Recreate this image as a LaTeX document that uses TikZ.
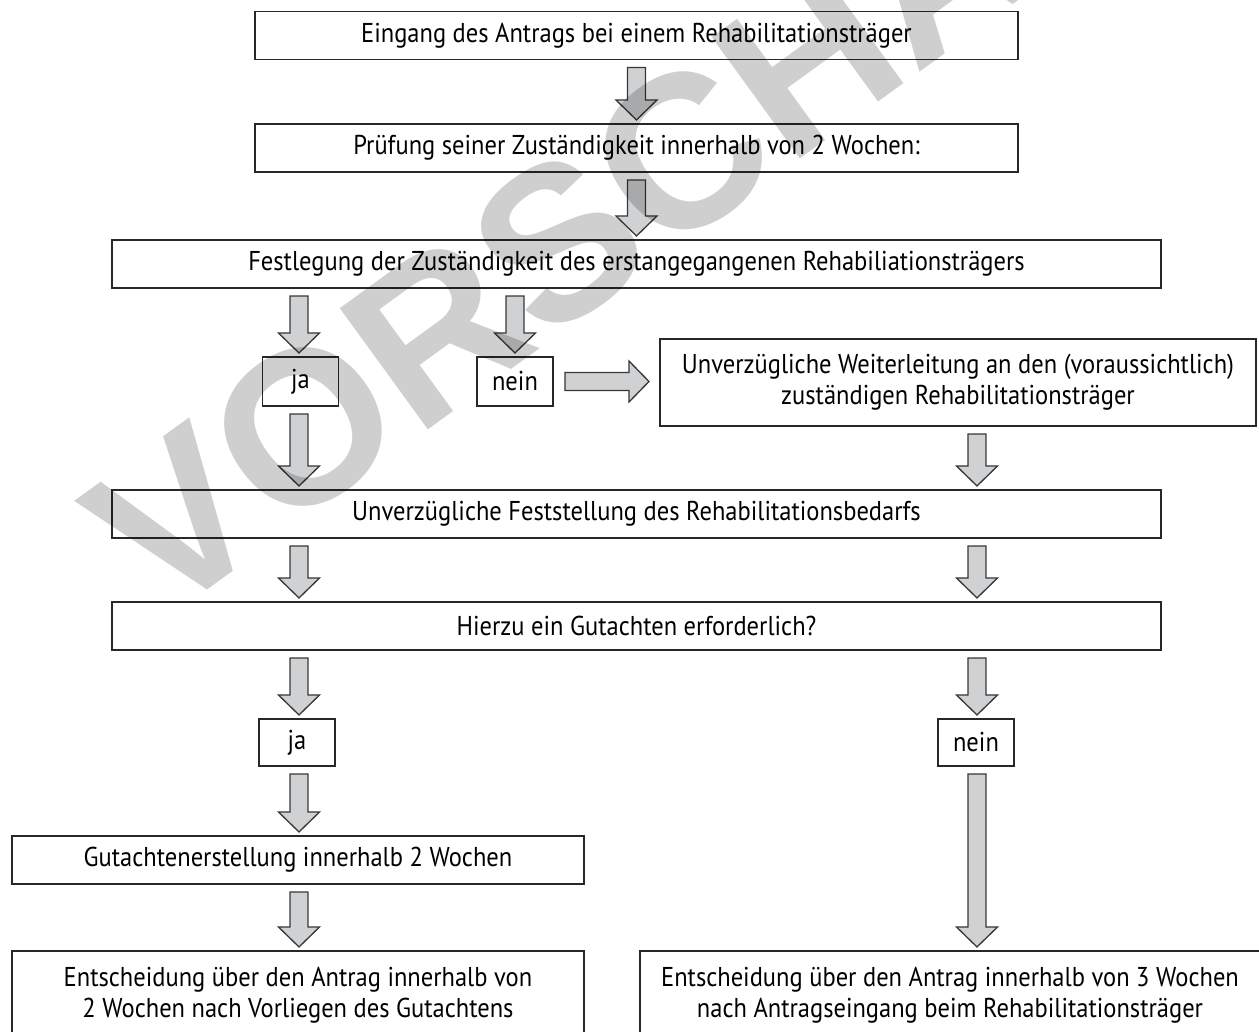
\documentclass[tikz,border=0pt]{standalone}
\usepackage{fontspec}
\setmainfont{PT Sans}[FakeStretch=0.9]
\newfontfamily\markfont{Liberation Sans}[BoldFont=* Bold]
\usepackage{tikz}
\usetikzlibrary{calc,positioning}
\definecolor{linedark}{RGB}{40,40,40}
\definecolor{arrowgrey}{RGB}{208,209,211}
\definecolor{arrowline}{RGB}{55,55,55}
\tikzset{
  base/.style={font=\fontsize{15.5}{17.6}\selectfont, align=center, inner sep=0pt, outer sep=0pt, text=black},
  box/.style={base, rectangle, draw=linedark, fill=white, line width=0.8pt, minimum height=0.96cm},
  widebox/.style={box, minimum width=20.98cm},
  midbox/.style={box, minimum width=15.26cm},
  tiny/.style={box, minimum width=1.52cm, minimum height=0.98cm},
  twoline/.style={box, minimum height=1.76cm},
  blk/.style={draw=arrowline, fill=arrowgrey, line width=0.75pt, line join=miter},
  wmark/.style={font=\markfont\bfseries\fontsize{124}{124}\selectfont, text=black, text opacity=0.19, inner sep=0pt},
}
% block arrows between two anchors
\newcommand{\blkdown}[2]{\draw[blk] let \p1=#1, \p2=#2 in
  (\x1-5.1pt,\y1-4.6pt) -- (\x1+5.1pt,\y1-4.6pt) -- (\x1+5.1pt,\y2+13.7pt) -- (\x1+11.7pt,\y2+13.7pt)
  -- (\x1,\y2+2.3pt) -- (\x1-11.7pt,\y2+13.7pt) -- (\x1-5.1pt,\y2+13.7pt) -- cycle;}
\newcommand{\blkright}[2]{\draw[blk] let \p1=#1, \p2=#2 in
  (\x1+6.8pt,\y1+5.1pt) -- (\x2-17.7pt,\y1+5.1pt) -- (\x2-17.7pt,\y1+11.7pt) -- (\x2-6.3pt,\y1)
  -- (\x2-17.7pt,\y1-11.7pt) -- (\x2-17.7pt,\y1-5.1pt) -- (\x1+6.8pt,\y1-5.1pt) -- cycle;}

\begin{document}
\begin{tikzpicture}[x=0.02cm,y=-0.02cm]
  \useasboundingbox (0,0) rectangle (1259,1032);
  \coordinate (lc) at (299,0);
  \coordinate (rc) at (977,0);
  % top of the chain
  \node[midbox] (eing) at (636.5,35.5) {Eingang des Antrags bei einem Rehabilitationsträger};
  \node[midbox] (pruef) at (636.5,148) {Prüfung seiner Zuständigkeit innerhalb von 2 Wochen:};
  \node[widebox] (fest) at (636.5,264) {Festlegung der Zuständigkeit des erstangegangenen Rehabiliationsträgers};
  % first decision
  \node[tiny] (ja1) at (300.5,381.5) {ja};
  \node[tiny] (nein1) at (515,381.5) {nein};
  \node[box, minimum width=11.92cm, minimum height=1.74cm] (weiter) at (958,382.5) {Unverzügliche Weiterleitung an den (voraussichtlich)\\zuständigen Rehabilitationsträger};
  \node[widebox] (fests) at (636.5,514) {Unverzügliche Feststellung des Rehabilitationsbedarfs};
  \node[widebox] (hier) at (636.5,626) {Hierzu ein Gutachten erforderlich?};
  % second decision
  \node[tiny, minimum height=0.94cm] (ja2) at (297,742.5) {ja};
  \node[tiny, minimum height=0.94cm] (nein2) at (976,742.5) {nein};
  \node[box, minimum width=11.44cm] (gut) at (298,860) {Gutachtenerstellung innerhalb 2 Wochen};
  \node[twoline, minimum width=11.44cm] (entl) at (298,995) {Entscheidung über den Antrag innerhalb von\\2 Wochen nach Vorliegen des Gutachtens};
  \node[twoline, minimum width=12.4cm] (entr) at (950,995) {Entscheidung über den Antrag innerhalb von 3 Wochen\\nach Antragseingang beim Rehabilitationsträger};
  % arrows
  \blkdown{(eing.south)}{(pruef.north)}
  \blkdown{(pruef.south)}{(fest.north)}
  \blkdown{(fest.south -| lc)}{(ja1.north -| lc)}
  \blkdown{(fest.south -| nein1)}{(nein1.north)}
  \blkright{(nein1.east)}{(weiter.west |- nein1)}
  \blkdown{(ja1.south -| lc)}{(fests.north -| lc)}
  \blkdown{(weiter.south -| rc)}{(fests.north -| rc)}
  \blkdown{(fests.south -| lc)}{(hier.north -| lc)}
  \blkdown{(fests.south -| rc)}{(hier.north -| rc)}
  \blkdown{(hier.south -| lc)}{(ja2.north -| lc)}
  \blkdown{(hier.south -| rc)}{(nein2.north -| rc)}
  \blkdown{(ja2.south -| lc)}{(gut.north -| lc)}
  \blkdown{(nein2.south -| rc)}{(entr.north -| rc)}
  \blkdown{(gut.south -| lc)}{(entl.north -| lc)}
  % watermark
  \node[wmark, rotate=36] (wm) at (622,196) {VORSCHAU};
\end{tikzpicture}
\end{document}
